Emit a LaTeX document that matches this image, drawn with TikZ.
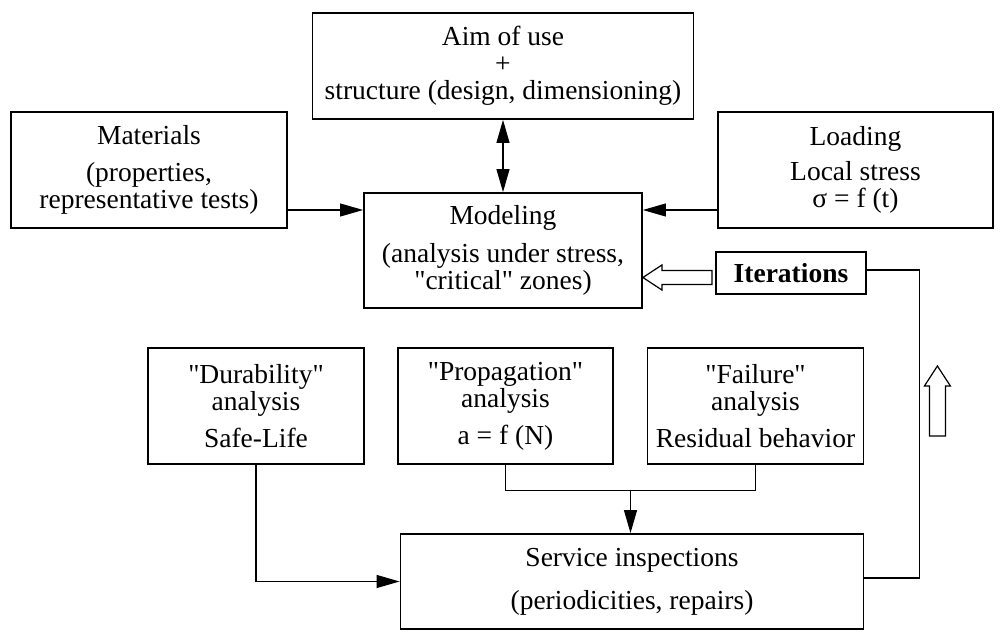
\documentclass[tikz,border=0pt]{standalone}
\usepackage{fontspec}
\setmainfont{Liberation Serif}[Ligatures=TeXOff]
\usetikzlibrary{arrows.meta,calc}
\tikzset{
  box/.style={draw, line width=1.8pt, inner sep=0pt, align=center,
    font=\fontsize{27.5}{27}\selectfont},
  conn/.style={line width=1.1pt},
  tip/.style={-{Triangle[length=23pt,width=13pt]}},
  hollow/.style={draw, line width=1.2pt, fill=white, line join=miter}
}
\begin{document}
\begin{tikzpicture}[x=1pt,y=-1pt]
\useasboundingbox (0,0) rectangle (1002,636);
\node[box, minimum width=381pt, minimum height=106pt] (aim) at (503,66)
  {Aim of use\\+\\structure (design, dimensioning)};
\node[box, minimum width=276pt, minimum height=116pt] (mat) at (149,170)
  {Materials\\[10pt](properties,\\representative tests)};
\node[box, minimum width=275pt, minimum height=116pt] (load) at (855.5,170)
  {Loading\\[8pt]Local stress\\σ = f (t)};
\node[box, minimum width=278pt, minimum height=115pt] (model) at (503,250.5)
  {Modeling\\[11pt](analysis under stress,\\"critical" zones)};
\node[box, minimum width=150pt, minimum height=42pt] (iter) at (791,273)
  {\textbf{Iterations}};
\node[box, minimum width=216pt, minimum height=116pt] (dur) at (256,406)
  {"Durability"\\analysis\\[10pt]Safe-Life};
\node[box, minimum width=215pt, minimum height=116pt] (prop) at (505.5,406)
  {"Propagation"\\analysis\\[10pt]a = f (N)};
\node[box, minimum width=216pt, minimum height=116pt] (fail) at (755.5,406)
  {"Failure"\\analysis\\[10pt]Residual behavior};
\node[box, minimum width=463pt, minimum height=95pt] (serv) at (632,581.5)
  {Service inspections\\[16pt](periodicities, repairs)};

% aim <-> modeling
\draw[conn,{Triangle[length=23pt,width=13pt]}-{Triangle[length=23pt,width=13pt]}]
  (aim.south) -- (model.north);
% materials -> modeling
\coordinate (m1) at ([yshift=-40pt]mat.east);
\draw[conn,tip] (m1) -- (m1 -| model.west);
% loading -> modeling
\coordinate (l1) at ([yshift=-40pt]load.west);
\draw[conn,tip] (l1) -- (l1 -| model.east);
% hollow arrow iterations -> modeling
\coordinate (ht) at ($(model.east)+(0,27)$);
\draw[hollow] (ht) -- ++(19,-12.5) -- ++(0,5.5) -- ++(50,0) -- ++(0,14)
  -- ++(-50,0) -- ++(0,5.5) -- cycle;
% iterations loop line
\draw[conn] ([yshift=3pt]iter.east) -- ++(53,0) |- ([yshift=3.5pt]serv.east);
% hollow up arrow
\coordinate (ut) at ($(fail.east)+(73,-40)$);
\draw[hollow] (ut) -- ++(13,20) -- ++(-5,0) -- ++(0,50) -- ++(-16,0)
  -- ++(0,-50) -- ++(-5,0) -- cycle;
% bracket propagation/failure -> service
\draw[conn] (prop.south) -- ++(0,26) -| (fail.south);
\coordinate (mid) at ($(prop.south)!0.5!(fail.south)+(0,26)$);
\draw[conn,tip] (mid) -- (mid |- serv.north);
% durability -> service
\draw[conn,tip] (dur.south) |- (serv.west);
\end{tikzpicture}
\end{document}
